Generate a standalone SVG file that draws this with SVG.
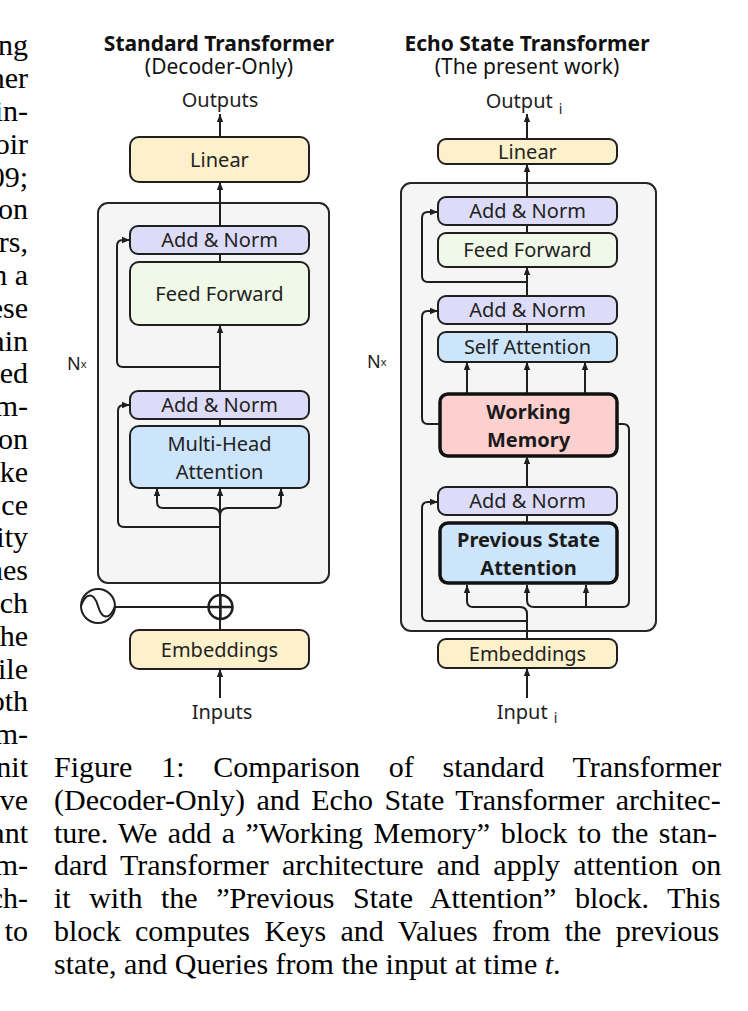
<svg xmlns="http://www.w3.org/2000/svg" width="748" height="1011" viewBox="0 0 748 1011">
<style>
.bg{fill:#ffffff}
.outer{fill:#f5f5f5;stroke:#262626;stroke-width:2}
.box{stroke:#1f1f1f;stroke-width:2}
.thick{stroke:#111111;stroke-width:3.5}
.yel{fill:#fdf1cc}
.lav{fill:#dddcf8}
.grn{fill:#f0f9e8}
.blu{fill:#cde5fb}
.red{fill:#fdd0d0}
.lbl{font-family:"Noto Sans","Open Sans","DejaVu Sans",sans-serif;font-size:20px;fill:#222222;text-anchor:middle}
.bold{font-weight:bold;fill:#1a1a1a}
.title{font-family:"Noto Sans","Open Sans","DejaVu Sans",sans-serif;font-size:21px;fill:#111111;text-anchor:middle}
.line{fill:none;stroke:#1f1f1f;stroke-width:2}
.arr{marker-end:url(#ah)}
.serif{font-family:"Liberation Serif","Times New Roman",serif;font-size:30px;fill:#000000}
.frag{text-anchor:end}
</style>
<defs>
<marker id="ah" markerUnits="userSpaceOnUse" markerWidth="8" markerHeight="8" viewBox="0 0 10 10" refX="10" refY="5" orient="auto">
<path d="M0,1 L10,5 L0,9 z" fill="#1f1f1f"/>
</marker>
</defs>
<rect class="bg" x="0" y="0" width="748" height="1011"/>

<g id="page-text-fragments" class="serif frag">
<text x="28" y="55.4">ng</text>
<text x="28" y="88.2">ner</text>
<text x="28" y="121">in-</text>
<text x="28" y="153.8">oir</text>
<text x="28" y="186.6">09;</text>
<text x="28" y="219.4">on</text>
<text x="28" y="252.2">rs,</text>
<text x="28" y="285">n a</text>
<text x="28" y="317.8">ese</text>
<text x="28" y="350.6">ain</text>
<text x="28" y="383.4">ed</text>
<text x="28" y="416.2">m-</text>
<text x="28" y="449">on</text>
<text x="28" y="481.8">ke</text>
<text x="28" y="514.6">ce</text>
<text x="28" y="547.4">ity</text>
<text x="28" y="580.2">nes</text>
<text x="28" y="613">ch</text>
<text x="28" y="645.8">he</text>
<text x="28" y="678.6">ile</text>
<text x="28" y="711.4">oth</text>
<text x="28" y="744.2">m-</text>
<text x="28" y="777">nit</text>
<text x="28" y="809.8">ve</text>
<text x="28" y="842.6">ant</text>
<text x="28" y="875.4">m-</text>
<text x="28" y="908.2">ch-</text>
<text x="28" y="941">to</text>
</g>

<g id="titles">
<text class="title bold" x="219" y="50.5">Standard Transformer</text>
<text class="title" x="219" y="74">(Decoder-Only)</text>
<text class="title bold" x="527" y="50.5">Echo State Transformer</text>
<text class="title" x="527" y="74">(The present work)</text>
</g>

<g id="left-outer"><rect class="outer" x="98" y="203" width="231" height="380" rx="10"/></g>
<g id="right-outer"><rect class="outer" x="401" y="183" width="255" height="448" rx="10"/></g>

<g id="left-outputs"><text class="lbl" x="220" y="107">Outputs</text></g>
<g id="left-linear"><rect class="box yel" x="130" y="137" width="179" height="45" rx="9"/><text class="lbl" x="219.5" y="167">Linear</text></g>
<g id="left-addnorm-1"><rect class="box lav" x="130" y="226" width="179" height="28" rx="8"/><text class="lbl" x="219.5" y="247">Add &amp; Norm</text></g>
<g id="left-feedforward"><rect class="box grn" x="130" y="262" width="179" height="63" rx="9"/><text class="lbl" x="219.5" y="300.5">Feed Forward</text></g>
<g id="left-addnorm-2"><rect class="box lav" x="130" y="391" width="179" height="28" rx="8"/><text class="lbl" x="219.5" y="412">Add &amp; Norm</text></g>
<g id="left-mha"><rect class="box blu" x="130" y="426" width="179" height="62" rx="9"/><text class="lbl" x="219.5" y="451">Multi-Head</text><text class="lbl" x="219.5" y="479">Attention</text></g>
<g id="left-embeddings"><rect class="box yel" x="130" y="630" width="179" height="39" rx="9"/><text class="lbl" x="219.5" y="656.5">Embeddings</text></g>
<g id="left-inputs"><text class="lbl" x="222" y="719">Inputs</text></g>
<g id="left-nx"><text class="lbl" x="67" y="370" style="text-anchor:start;font-size:18px">N<tspan font-size="11" dy="-2">x</tspan></text></g>
<g id="positional-encoding"><circle cx="98" cy="606" r="17" fill="none" stroke="#1f1f1f" stroke-width="2"/><path d="M81,606 C86,592 94,592 98,606 C102,620 110,620 115,606" fill="none" stroke="#1f1f1f" stroke-width="2"/></g>
<g id="sum"><circle cx="220.5" cy="607" r="12" fill="none" stroke="#1f1f1f" stroke-width="2.5"/><path d="M208.5,607 H232.5 M220.5,595 V619" stroke="#1f1f1f" stroke-width="2.5"/></g>

<g id="right-output"><text class="lbl" x="524" y="108">Output<tspan font-size="14" dx="6" dy="6">i</tspan></text></g>
<g id="right-linear"><rect class="box yel" x="438" y="139" width="179" height="25" rx="8"/><text class="lbl" x="527.5" y="158.5">Linear</text></g>
<g id="right-addnorm-1"><rect class="box lav" x="438" y="197" width="179" height="28" rx="8"/><text class="lbl" x="527.5" y="218">Add &amp; Norm</text></g>
<g id="right-feedforward"><rect class="box grn" x="438" y="233" width="179" height="34" rx="8"/><text class="lbl" x="527.5" y="257">Feed Forward</text></g>
<g id="right-addnorm-2"><rect class="box lav" x="438" y="296" width="179" height="28" rx="8"/><text class="lbl" x="527.5" y="317">Add &amp; Norm</text></g>
<g id="right-selfattention"><rect class="box blu" x="438" y="332" width="179" height="30" rx="8"/><text class="lbl" x="527.5" y="354">Self Attention</text></g>
<g id="working-memory"><rect class="thick red" x="440" y="394" width="177" height="62" rx="8"/><text class="lbl bold" x="528.5" y="419" font-size="21">Working</text><text class="lbl bold" x="528.5" y="447" font-size="21">Memory</text></g>
<g id="right-addnorm-3"><rect class="box lav" x="438" y="487" width="179" height="28" rx="8"/><text class="lbl" x="527.5" y="508">Add &amp; Norm</text></g>
<g id="previous-state-attention"><rect class="thick blu" x="440" y="523" width="177" height="60" rx="8"/><text class="lbl bold" x="528.5" y="547">Previous State</text><text class="lbl bold" x="528.5" y="575">Attention</text></g>
<g id="right-embeddings"><rect class="box yel" x="438" y="639" width="179" height="29" rx="8"/><text class="lbl" x="527.5" y="660.5">Embeddings</text></g>
<g id="right-input"><text class="lbl" x="527" y="719">Input<tspan font-size="14" dx="6" dy="4">i</tspan></text></g>
<g id="right-nx"><text class="lbl" x="367" y="368" style="text-anchor:start;font-size:18px">N<tspan font-size="11" dy="-2">x</tspan></text></g>

<g id="connectors">
<path class="line arr" d="M220,137 V114"/>
<path class="line arr" d="M220,226 V182"/>
<path class="line" d="M220,254 V262"/>
<path class="line arr" d="M220,391 V325"/>
<path class="line" d="M220,419 V426"/>
<path class="line arr" d="M220,367 H123 Q117,367 117,361 V246 Q117,240 123,240 H130"/>
<path class="line arr" d="M220,630 V488"/>
<path class="line arr" d="M220,516 Q220,508 212,508 H163 Q157,508 157,502 V488"/>
<path class="line arr" d="M220,516 Q220,508 228,508 H275 Q281,508 281,502 V488"/>
<path class="line arr" d="M220,527 H124 Q118,527 118,521 V411 Q118,405 124,405 H130"/>
<path class="line" d="M115,607 H208.5"/>
<path class="line arr" d="M220,698 V669"/>

<path class="line arr" d="M527,139 V114"/>
<path class="line arr" d="M527,197 V164"/>
<path class="line" d="M527,225 V233"/>
<path class="line arr" d="M527,296 V267"/>
<path class="line arr" d="M527,282 H428 Q422,282 422,276 V218 Q422,212 428,212 H438"/>
<path class="line" d="M527,324 V332"/>
<path class="line arr" d="M467,393 V362"/>
<path class="line arr" d="M527,393 V362"/>
<path class="line arr" d="M585,393 V362"/>
<path class="line arr" d="M440,424 H428 Q422,424 422,418 V317 Q422,311 428,311 H438"/>
<path class="line arr" d="M527,487 V456"/>
<path class="line" d="M527,515 V523"/>
<path class="line arr" d="M527,639 V614 Q527,607 520,607 H473 Q467,607 467,601 V585"/>
<path class="line arr" d="M527,621 H428 Q422,621 422,615 V508 Q422,502 428,502 H438"/>
<path class="line arr" d="M617,424 H623 Q629,424 629,430 V601 Q629,607 623,607 H534 Q527,607 527,600 V585"/>
<path class="line arr" d="M586,607 V585"/>
<path class="line arr" d="M527,698 V668"/>
</g>

<g id="caption" class="serif">
<text x="54" y="777" word-spacing="21.3">Figure 1: Comparison of standard Transformer</text>
<text x="54" y="809.8" word-spacing="4">(Decoder-Only) and Echo State Transformer architec-</text>
<text x="54" y="842.6" word-spacing="3">ture. We add a ”Working Memory” block to the stan-</text>
<text x="54" y="875.4" word-spacing="5.7">dard Transformer architecture and apply attention on</text>
<text x="54" y="908.2" word-spacing="11">it with the ”Previous State Attention” block. This</text>
<text x="54" y="941" word-spacing="6.9">block computes Keys and Values from the previous</text>
<text x="54" y="973.8">state, and Queries from the input at time <tspan font-style="italic">t</tspan>.</text>
</g>
</svg>
